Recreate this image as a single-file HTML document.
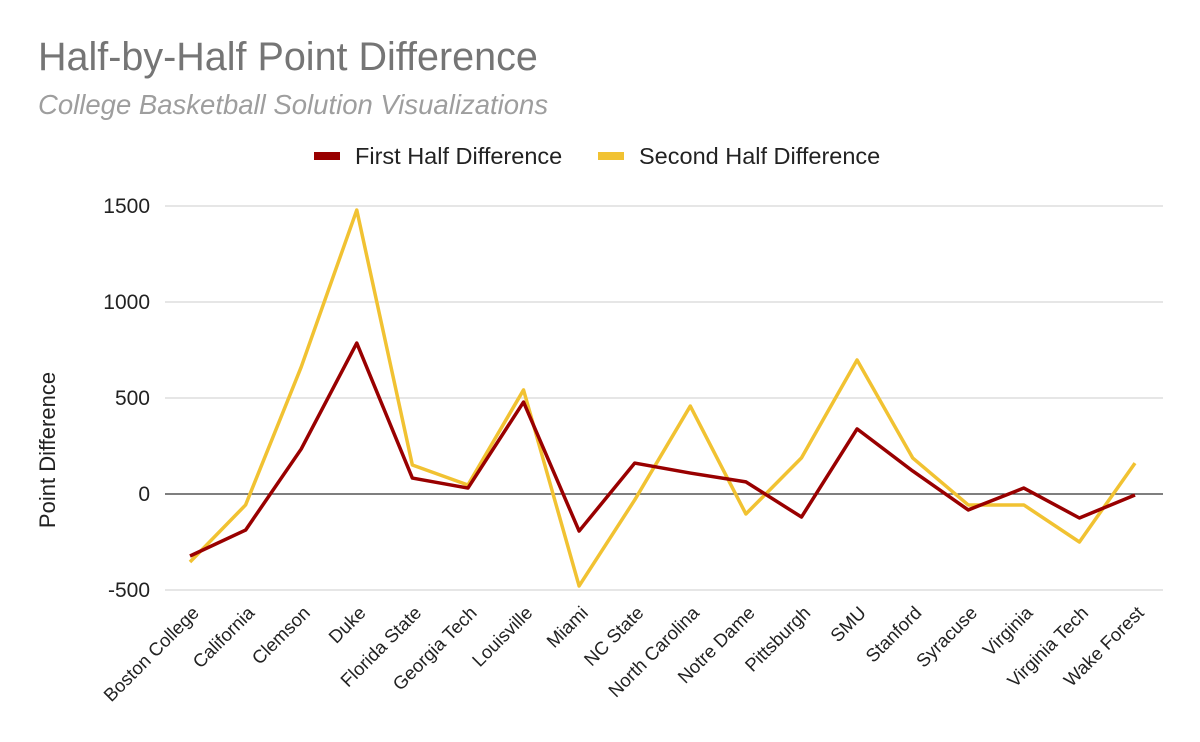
<!DOCTYPE html>
<html><head><meta charset="utf-8"><style>
html,body{margin:0;padding:0;background:#fff;}
svg{display:block;font-family:"Liberation Sans",Arial,sans-serif;}
</style></head><body>
<svg id="chart" width="1200" height="742">
<text x="38" y="70" font-size="39.5" fill="#757575">Half-by-Half Point Difference</text>
<text x="38" y="114" font-size="27.5" font-style="italic" fill="#9e9e9e">College Basketball Solution Visualizations</text>
<g>
<g><rect x="314" y="152" width="26" height="8" fill="#990000"/><text x="355" y="164" font-size="23.5" fill="#222">First Half Difference</text></g>
<g><rect x="598" y="152" width="26" height="8" fill="#f1c232"/><text x="639" y="164" font-size="23.5" fill="#222">Second Half Difference</text></g>
</g>
<text transform="translate(55,450) rotate(-90)" text-anchor="middle" font-size="22" fill="#222">Point Difference</text>
<g id="grid"></g><g id="xlabels"></g><g id="lines"></g>
</svg>
<script>
const categories=["Boston College","California","Clemson","Duke","Florida State","Georgia Tech","Louisville","Miami","NC State","North Carolina","Notre Dame","Pittsburgh","SMU","Stanford","Syracuse","Virginia","Virginia Tech","Wake Forest"];
const firstHalf=[-323,-188,234,786,83,31,479,-193,161,109,63,-120,339,120,-83,31,-125,-5];
const secondHalf=[-354,-57,661,1479,151,47,542,-479,-31,458,-104,188,698,188,-57,-57,-250,161];
const yTicks=[-500,0,500,1000,1500];
const NS="http://www.w3.org/2000/svg";
const X0=190,X1=1135,Y0=494,PX=96/500;
const x=i=>X0+i*(X1-X0)/(categories.length-1);
const y=v=>Y0-v*PX;
function mk(t,a,p){const e=document.createElementNS(NS,t);for(const k in a)e.setAttribute(k,a[k]);p.appendChild(e);return e;}
const grid=document.getElementById('grid');
yTicks.forEach(v=>{
 const l=mk('line',{x1:165,x2:1163,y1:y(v),y2:y(v),stroke:v===0?'#333':'#ccc','stroke-width':v===0?1.3:1},grid);
 
 
 const t=mk('text',{x:150,y:y(v)+7,'text-anchor':'end','font-size':21,fill:'#222'},grid);
 t.textContent=v;
 
 
});
const xl=document.getElementById('xlabels');
categories.forEach((c,i)=>{
 const t=mk('text',{transform:`translate(${x(i)+10},${614}) rotate(-45)`,'text-anchor':'end','font-size':18.5,fill:'#222'},xl);
 t.textContent=c;
 
 
});
const ln=document.getElementById('lines');
[[secondHalf,'#f1c232','second-half-line'],[firstHalf,'#990000','first-half-line']].forEach(([d,col,n])=>{
 const p=mk('polyline',{points:d.map((v,i)=>x(i)+','+y(v)).join(' '),fill:'none',stroke:col,'stroke-width':3.5,'stroke-linejoin':'round'},ln);
 
 
});
</script>
</body></html>
